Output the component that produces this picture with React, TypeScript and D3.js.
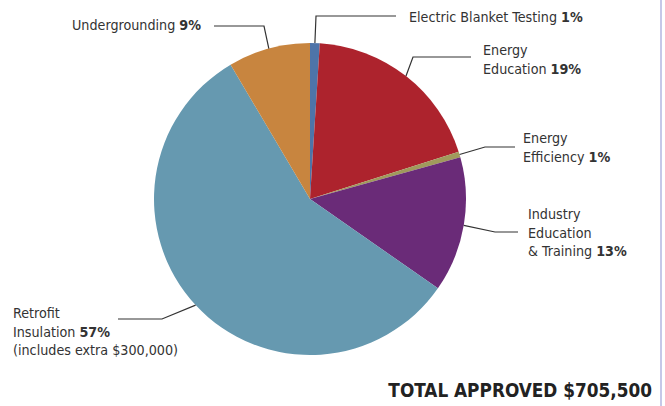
import { useEffect, useRef } from "react";
import * as d3 from "d3";

// Funding categories, clockwise from 12 o'clock
const categories = [
  "Electric Blanket Testing",
  "Energy Education",
  "Energy Efficiency",
  "Industry Education & Training",
  "Retrofit Insulation",
  "Undergrounding",
];
// Share of total (%)
const shares = [1.0, 19.1, 0.6, 14.0, 56.8, 8.5];
// Percent labels as printed
const pctLabels = ["1%", "19%", "1%", "13%", "57%", "9%"];
// Label text lines; the percent goes on the line marked by pctLine
const labelLines = [
  ["Electric Blanket Testing"],
  ["Energy", "Education"],
  ["Energy", "Efficiency"],
  ["Industry", "Education", "& Training"],
  ["Retrofit", "Insulation", "(includes extra $300,000)"],
  ["Undergrounding"],
];
const pctLine = [0, 1, 1, 2, 1, 0];
const totalLabel = "TOTAL APPROVED $705,500";

const COLORS = ["#4e74a9", "#ad232d", "#a09a5c", "#6a2b78", "#6699b0", "#c8853f"];

const W = 665;
const H = 406;
const CX = 310;
const CY = 199;
const R = 156;
const FONT = "'Liberation Sans Narrow', 'DejaVu Sans Condensed', 'Liberation Sans', sans-serif";

// Label layout: text anchor point + leader elbow/end
const LAYOUT = [
  { x: 409, y: 22, anchor: "start", elbow: [316, 16], end: [396, 16] },
  { x: 483, y: 55, anchor: "start", elbow: [413, 57], end: [471, 57] },
  { x: 523, y: 143, anchor: "start", elbow: [485, 147], end: [515, 147] },
  { x: 528, y: 219, anchor: "start", elbow: [495, 232], end: [518, 232] },
  { x: 13, y: 318, anchor: "start", elbow: [162, 319], end: [118, 319] },
  { x: 201, y: 30, anchor: "end", elbow: [264, 26], end: [214, 26] },
];
const LINE_H = 18.5;

export default function App() {
  const svgRef = useRef<SVGSVGElement | null>(null);

  useEffect(() => {
    if (!svgRef.current) return;
    const svg = d3.select(svgRef.current);
    svg.selectAll("*").remove();

    svg.append("rect").attr("width", W).attr("height", H).attr("fill", "#fff");

    // right frame line
    svg
      .append("line")
      .attr("x1", 661)
      .attr("x2", 661)
      .attr("y1", 0)
      .attr("y2", H)
      .attr("stroke", "#b3b6e0")
      .attr("stroke-width", 1.5);

    const pie = d3
      .pie<number>()
      .sort(null)
      .value((d) => d);
    const arcs = pie(shares);
    const arc = d3.arc<d3.PieArcDatum<number>>().innerRadius(0).outerRadius(R);

    const g = svg.append("g").attr("transform", `translate(${CX},${CY})`);
    g.selectAll("path")
      .data(arcs)
      .join("path")
      .attr("d", arc)
      .attr("fill", (_d, i) => COLORS[i]);

    // Leader lines from the slice's mid-angle on the rim
    arcs.forEach((a, i) => {
      const mid = (a.startAngle + a.endAngle) / 2;
      const sx = CX + R * Math.sin(mid);
      const sy = CY - R * Math.cos(mid);
      const L = LAYOUT[i];
      const pts: [number, number][] = [[sx, sy], L.elbow as [number, number], L.end as [number, number]];
      svg
        .append("path")
        .attr("d", d3.line()(pts) ?? "")
        .attr("fill", "none")
        .attr("stroke", "#333")
        .attr("stroke-width", 1.2);
    });

    // Labels
    categories.forEach((_c, i) => {
      const L = LAYOUT[i];
      const t = svg
        .append("text")
        .attr("font-family", FONT)
        .attr("font-size", 14.2)
        .attr("fill", "#333")
        .attr("text-anchor", L.anchor);
      labelLines[i].forEach((ln, j) => {
        t.append("tspan")
          .attr("x", L.x)
          .attr("y", L.y + j * LINE_H)
          .text(j === pctLine[i] ? ln + " " : ln);
        if (j === pctLine[i]) {
          t.append("tspan").attr("font-weight", "bold").text(pctLabels[i]);
        }
      });
    });

    svg
      .append("text")
      .attr("x", 652)
      .attr("y", 397)
      .attr("text-anchor", "end")
      .attr("font-family", FONT)
      .attr("font-size", 18.8)
      .attr("font-weight", "bold")
      .attr("fill", "#222")
      .text(totalLabel);
  }, []);

  return (
    <svg
      ref={svgRef}
      width={W}
      height={H}
      style={{ position: "absolute", left: 0, top: 0 }}
    />
  );
}
